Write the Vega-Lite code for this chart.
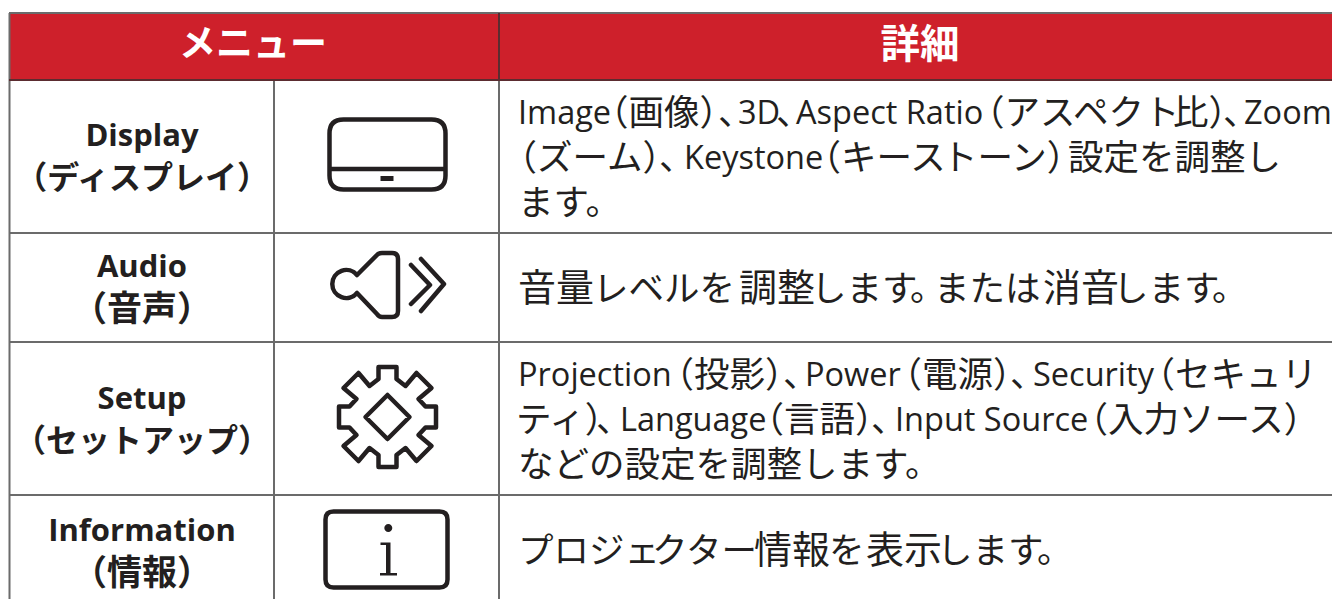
{"$schema":"https://vega.github.io/schema/vega-lite/v6.json","width":1332,"height":599,"padding":0,"autosize":"none","background":"#ffffff","config":{"view":{"stroke":null}},
"encoding":{"x":{"field":"x","type":"quantitative","scale":{"domain":[0,1332],"nice":false},"axis":null},"y":{"field":"y","type":"quantitative","scale":{"domain":[599,0],"nice":false},"axis":null}},
"datasets":{
"header":[{"x":9,"x2":1332,"y":13,"y2":80}],
"lines":[
{"x":9,"x2":1332,"y":13,"y2":13},{"x":9,"x2":1332,"y":233,"y2":233},{"x":9,"x2":1332,"y":342,"y2":342},{"x":9,"x2":1332,"y":495,"y2":495},
{"x":9.5,"x2":9.5,"y":13,"y2":599},{"x":274,"x2":274,"y":80,"y2":599},{"x":499,"x2":499,"y":80,"y2":599}],
"headerLines":[{"x":9,"x2":1332,"y":80,"y2":80},{"x":499,"x2":499,"y":13,"y2":80}],
"head1":[{"x":253,"y":46,"t":"メニュー"}],
"head2":[{"x":920,"y":46,"t":"詳細"}],
"namesLatin":[{"x":142,"y":135,"t":"Display"},{"x":142,"y":266,"t":"Audio"},{"x":142,"y":398,"t":"Setup"},{"x":142,"y":530,"t":"Information"}],
"namesKana":[{"x":142,"y":177,"t":"（ディスプレイ）"},{"x":142,"y":440,"t":"（セットアップ）"}],
"namesKanji":[{"x":142,"y":308,"t":"（音声）"},{"x":142,"y":572,"t":"（情報）"}],
"latin":[{"x":518,"y":112,"t":"Image"},{"x":738,"y":112,"t":"3D"},{"x":796,"y":112,"t":"Aspect Ratio"},{"x":1244,"y":112,"t":"Zoom"},
{"x":684,"y":157,"t":"Keystone"},
{"x":518,"y":374,"t":"Projection"},{"x":805,"y":374,"t":"Power"},{"x":1033,"y":374,"t":"Security"},
{"x":620,"y":419,"t":"Language"},{"x":895,"y":419,"t":"Input Source"}],
"cjk":[{"x":593,"y":112,"t":"（画像）"},{"x":718,"y":112,"t":"、"},{"x":776,"y":112,"t":"、"},{"x":969,"y":112,"t":"（アスペクト"},{"x":1173,"y":112,"t":"比）"},{"x":1223,"y":112,"t":"、"},
{"x":501.5,"y":157,"t":"（ズーム）"},{"x":659,"y":157,"t":"、"},{"x":805.5,"y":157,"t":"（キース"},{"x":942,"y":157,"t":"トーン）"},{"x":1068,"y":157,"t":"設定を調整し"},
{"x":518,"y":202,"t":"ます。"},
{"x":593,"y":288,"t":"レベルを"},{"x":811,"y":288,"t":"します"},{"x":910,"y":288,"t":"。"},{"x":934,"y":288,"t":"または"},{"x":1113,"y":288,"t":"します"},{"x":1212,"y":288,"t":"。"},
{"x":658.5,"y":374,"t":"（投影）"},{"x":783,"y":374,"t":"、"},{"x":886.5,"y":374,"t":"（電源）"},{"x":1010,"y":374,"t":"、"},{"x":1139.5,"y":374,"t":"（セキュリ"},
{"x":516,"y":419,"t":"ティ）"},{"x":596,"y":419,"t":"、"},{"x":748.5,"y":419,"t":"（言語）"},{"x":871,"y":419,"t":"、"},{"x":1072.5,"y":419,"t":"（入力ソース）"},
{"x":518,"y":464,"t":"などの設定を調整します。"},
{"x":518,"y":550,"t":"プロジェ"},{"x":652,"y":550,"t":"クター"},{"x":829,"y":550,"t":"を"},{"x":937,"y":550,"t":"します"},{"x":1037,"y":550,"t":"。"}],
"kanji":[{"x":518,"y":288,"t":"音量"},{"x":739,"y":288,"t":"調整"},{"x":1043,"y":288,"t":"消音"},{"x":754,"y":550,"t":"情報"},{"x":866,"y":550,"t":"表示"}],
"icons":[{"x":387.5,"y":154.5,"icon":"display"},{"x":388,"y":285,"icon":"audio"},{"x":387.5,"y":417,"icon":"gear"},{"x":386.5,"y":549.5,"icon":"info"}],
"solid":[{"x":387.5,"y":154.5,"icon":"slot"},{"x":386.5,"y":549.5,"icon":"glyph"}]
},
"layer":[
{"data":{"name":"header"},"mark":{"type":"rect","color":"#ce202b"},"encoding":{"x2":{"field":"x2"},"y2":{"field":"y2"}}},
{"data":{"name":"lines"},"mark":{"type":"rule","color":"#6b6b6b","strokeWidth":2},"encoding":{"x2":{"field":"x2"},"y2":{"field":"y2"}}},
{"data":{"name":"headerLines"},"mark":{"type":"rule","color":"#5b2c30","strokeWidth":2},"encoding":{"x2":{"field":"x2"},"y2":{"field":"y2"}}},
{"data":{"name":"head1"},"mark":{"type":"text","font":"Noto Sans CJK JP","fontWeight":"bold","fontSize":37,"color":"#ffffff","align":"center","baseline":"middle"},"encoding":{"text":{"field":"t"}}},
{"data":{"name":"head2"},"mark":{"type":"text","font":"Noto Sans CJK JP","fontWeight":"bold","fontSize":39.5,"color":"#ffffff","align":"center","baseline":"middle"},"encoding":{"text":{"field":"t"}}},
{"data":{"name":"namesLatin"},"mark":{"type":"text","font":"Open Sans","fontWeight":"bold","fontSize":31,"color":"#231f20","align":"center","baseline":"middle","dy":2},"encoding":{"text":{"field":"t"}}},
{"data":{"name":"namesKana"},"mark":{"type":"text","font":"Noto Sans CJK JP","fontWeight":"bold","fontSize":32,"color":"#231f20","align":"center","baseline":"middle","dy":2},"encoding":{"text":{"field":"t"}}},
{"data":{"name":"namesKanji"},"mark":{"type":"text","font":"Noto Sans CJK JP","fontWeight":"bold","fontSize":35,"color":"#231f20","align":"center","baseline":"middle","dy":2},"encoding":{"text":{"field":"t"}}},
{"data":{"name":"latin"},"mark":{"type":"text","font":"Open Sans","fontSize":32.5,"color":"#231f20","align":"left","baseline":"middle","dy":2},"encoding":{"text":{"field":"t"}}},
{"data":{"name":"cjk"},"mark":{"type":"text","font":"Noto Sans CJK JP","fontSize":35.5,"color":"#231f20","align":"left","baseline":"middle","dy":2},"encoding":{"text":{"field":"t"}}},
{"data":{"name":"kanji"},"mark":{"type":"text","font":"Noto Sans CJK JP","fontSize":38,"color":"#231f20","align":"left","baseline":"middle","dy":2},"encoding":{"text":{"field":"t"}}},
{"data":{"name":"icons"},"mark":{"type":"point","filled":false,"size":4,"stroke":"#231f20","strokeWidth":4.5,"strokeCap":"round","strokeJoin":"round","opacity":1},"encoding":{"shape":{"field":"icon","type":"nominal","legend":null,"scale":{"domain":["display","audio","gear","info"],"range":[
"M-44,-35 H44 Q58,-35 58,-21 V21 Q58,35 44,35 H-44 Q-58,35 -58,21 V-21 Q-58,-35 -44,-35 Z M-58,14.5 H58",
"M-31,-10 L-10,-31 Q-8,-32 -6,-32 H4 Q10,-32 10,-26 V26 Q10,32 4,32 H-6 Q-9,32 -11,29 L-31,8 A14,14 0 1 1 -31,-10 Z M23,-20 L42,0 L23,19 M33,-26 L56,-1 L33,26",
"M-9,-50 L9,-50 L9,-38 L18,-31 L29,-44 L44,-29 L31,-18 L38,-10.5 L48.5,-10.5 L48.5,10.5 L38,10.5 L31,18 L44,29 L29,44 L18,31 L9,38 L9,50 L-9,50 L-9,38 L-18,31 L-29,44 L-44,29 L-31,18 L-38,10.5 L-48.5,10.5 L-48.5,-10.5 L-38,-10.5 L-31,-18 L-44,-29 L-29,-44 L-18,-31 L-9,-38 Z M0,-22 L22,0 L0,22 L-22,0 Z",
"M-53,-38 H53 Q61,-38 61,-30 V30 Q61,38 53,38 H-53 Q-61,38 -61,30 V-30 Q-61,-38 -53,-38 Z"
]}}}},
{"data":{"name":"solid"},"mark":{"type":"point","filled":true,"size":4,"fill":"#231f20","strokeWidth":0,"opacity":1},"encoding":{"shape":{"field":"icon","type":"nominal","legend":null,"scale":{"domain":["slot","glyph"],"range":[
"M-7,21.5 H6 V26.5 H-7 Z",
"M-6,-7 H4 V23.5 H10.5 V26 H-6.5 V23.5 H-0.5 V-4.5 H-6 Z M5.8,-21.5 A4,4 0 1 1 -2.2,-21.5 A4,4 0 1 1 5.8,-21.5 Z"
]}}}}
],"resolve":{"scale":{"shape":"independent"}}}
